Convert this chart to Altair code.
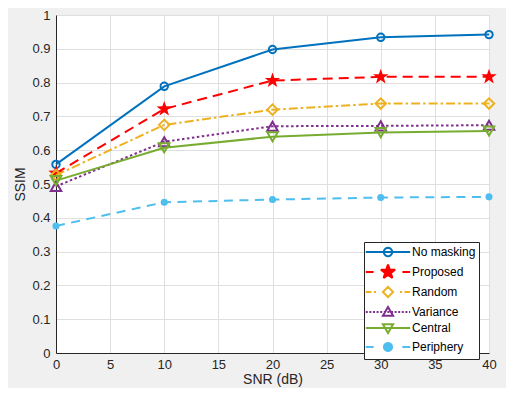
import math
import altair as alt
import pandas as pd

# ---------------- data ----------------
snr = [0, 10, 20, 30, 40]
series_names = ["No masking", "Proposed", "Random", "Variance", "Central", "Periphery"]
no_masking = [0.558, 0.789, 0.898, 0.934, 0.942]
proposed = [0.532, 0.722, 0.806, 0.817, 0.817]
random_ = [0.526, 0.675, 0.720, 0.738, 0.738]
variance = [0.493, 0.625, 0.671, 0.672, 0.674]
central = [0.510, 0.607, 0.640, 0.652, 0.657]
periphery = [0.376, 0.446, 0.454, 0.460, 0.462]
values = [no_masking, proposed, random_, variance, central, periphery]

x_ticks = [0, 5, 10, 15, 20, 25, 30, 35, 40]
y_ticks = [0, 0.1, 0.2, 0.3, 0.4, 0.5, 0.6, 0.7, 0.8, 0.9, 1]

rows = []
for name, vals in zip(series_names, values):
    for s, v in zip(snr, vals):
        rows.append({"series": name, "snr": s, "ssim": v})
df = pd.DataFrame(rows)

# ---------------- styles ----------------
colors = ["#0072BD", "#FF0000", "#EDB120", "#7E2F8E", "#77AC30", "#4DBEEE"]
dashes = [None, [10, 6], [9, 3, 2.5, 3], [2.5, 2.5], None, [9, 6.5]]
FONT = "Liberation Sans"
AX = "#262626"
GRID = "#dfdfdf"


def f(v):
    return f"{v:.3f}".rstrip("0").rstrip(".")


def poly(pts):
    return "M" + "L".join(f"{f(x)},{f(y)}" for x, y in pts) + "Z"


def circle(r, n=20):
    return poly([(r * math.cos(2 * math.pi * k / n), r * math.sin(2 * math.pi * k / n)) for k in range(n)])


def star_pts(R, ri):
    pts = []
    for k in range(10):
        a = math.radians(-90 + 36 * k)
        rr = R if k % 2 == 0 else ri
        pts.append((rr * math.cos(a), rr * math.sin(a)))
    return pts


def star(R, ri):
    return poly(star_pts(R, ri))


def blunt_star(R, ri, t=0.14):
    pts = star_pts(R, ri)
    out = []
    for k in range(10):
        if k % 2 == 0:
            tip = pts[k]
            prev = pts[k - 1]
            nxt = pts[(k + 1) % 10]
            out.append((tip[0] + t * (prev[0] - tip[0]), tip[1] + t * (prev[1] - tip[1])))
            out.append((tip[0] + t * (nxt[0] - tip[0]), tip[1] + t * (nxt[1] - tip[1])))
        else:
            out.append(pts[k])
    return poly(out)


def diamond(r):
    return poly([(0, -r), (r, 0), (0, r), (-r, 0)])


def tri_up(r):
    return poly([(0, -r), (r, 0.75 * r), (-r, 0.75 * r)])


def tri_down(r):
    return poly([(0, r), (r, -0.75 * r), (-r, -0.75 * r)])


L = 3.7
solid = f"M{-L},0H{L}"
dashed = f"M{-L},0H-2.4M2.4,0H{L}"
dashdot = f"M{-L},0H-2.75M-2.35,0H-2.0M2.0,0H2.35M2.75,0H{L}"
dotted = ""
p = -L
while p < L:
    dotted += f"M{f(p)},0H{f(min(p + 0.33, L))}"
    p += 0.6

legend_paths = [
    solid + circle(0.7),
    dashed + blunt_star(1.25, 0.5),
    dashdot + diamond(0.85),
    dotted + tri_up(0.85),
    solid + tri_down(0.85),
    dashed + circle(0.68),
]
legend_fills = ["transparent", "#FF0000", "transparent", "transparent", "transparent", "#4DBEEE"]

marker_shapes = ["circle", star(1, 0.4), "diamond", "triangle-up", "triangle-down", "circle"]
marker_sizes = [55, 260, 110, 110, 110, 50]
marker_filled = [False, True, False, False, False, True]

# ---------------- chart ----------------
x_enc = alt.X(
    "snr:Q",
    scale=alt.Scale(domain=[0, 40], nice=False),
    axis=alt.Axis(values=x_ticks, title="SNR (dB)", ticks=False, labelPadding=5,
                  titlePadding=1, labelFlush=False),
)
y_enc = alt.Y(
    "ssim:Q",
    scale=alt.Scale(domain=[0, 1], nice=False),
    axis=alt.Axis(values=y_ticks, format="~g", title="SSIM", ticks=False, labelPadding=6,
                  titlePadding=4, labelFlush=False),
)

base = alt.Chart(df)

lines = []
points = []
for name, c, d, shp, sz, fl in zip(series_names, colors, dashes, marker_shapes, marker_sizes, marker_filled):
    sub = base.transform_filter(alt.datum.series == name)
    line_kw = dict(strokeWidth=2, color=c)
    if d is not None:
        line_kw["strokeDash"] = d
    lines.append(sub.mark_line(**line_kw).encode(x=x_enc, y=y_enc))
    points.append(
        sub.mark_point(shape=shp, size=sz, filled=fl, color=c, strokeWidth=2 if not fl else 1, opacity=1)
        .encode(x=x_enc, y=y_enc)
    )

layers = []
for ln, pt in zip(lines, points):
    layers.extend([ln, pt])

leg = alt.Legend(
    orient="none", legendX=308, legendY=227, title=None,
    strokeColor=AX, fillColor="white", padding=3,
    symbolSize=144, symbolStrokeWidth=2, symbolOffset=14, labelOffset=17,
    rowPadding=0, labelFont=FONT, labelFontSize=12, labelColor="#000000",
)
legend_layer = base.transform_filter("false").mark_point(size=144, strokeWidth=2, opacity=1).encode(
    x=x_enc,
    y=y_enc,
    shape=alt.Shape("series:N", scale=alt.Scale(domain=series_names, range=legend_paths), legend=leg),
    stroke=alt.Stroke("series:N", scale=alt.Scale(domain=series_names, range=colors), legend=leg),
    fill=alt.Fill("series:N", scale=alt.Scale(domain=series_names, range=legend_fills), legend=leg),
)

chart = (
    alt.layer(*layers, legend_layer)
    .properties(
        width=433, height=338, background="#f0f0f0",
        autosize=alt.AutoSizeParams(type="none"),
        padding={"left": 48, "top": 7, "right": 17, "bottom": 35},
    )
    .configure_view(stroke=GRID, fill="white")
    .configure_axis(
        labelFont=FONT, titleFont=FONT, labelFontSize=13, titleFontSize=14,
        labelColor=AX, titleColor=AX, titleFontWeight="normal",
        domainColor=AX, domainWidth=1, gridColor=GRID, gridWidth=1, grid=True,
    )
)

chart.save("out.html", embed_options={"renderer": "svg", "actions": False})
